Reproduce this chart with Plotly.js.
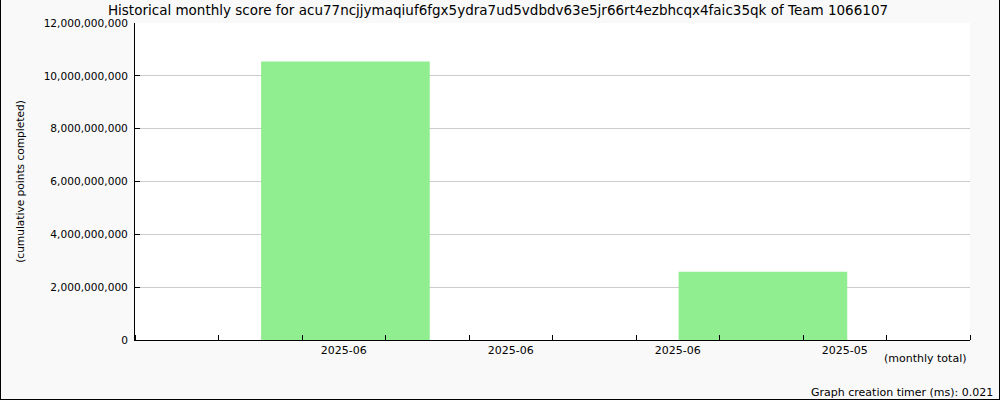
<!DOCTYPE html>
<html>
<head>
<meta charset="utf-8">
<script src="https://cdn.plot.ly/plotly-3.0.1.min.js"></script>
<style>
  html, body { margin: 0; padding: 0; background: #f9f9f9; }
  #wrap { position: relative; width: 1000px; height: 400px; }
  #chart { width: 1000px; height: 400px; }
  #frame { position: absolute; left: 0; top: 0; width: 1000px; height: 400px; box-sizing: border-box;
           border: 1px solid #000; border-top: none; pointer-events: none; }
</style>
</head>
<body>
<div id="wrap"><div id="chart"></div><div id="frame"></div></div>
<script>
// Data
const monthLabels = ['2025-06', '2025-06', '2025-06', '2025-05'];
const labelSlots = [2.5, 4.5, 6.5, 8.5];
const barSlots = [2.52, 7.52];
const barScores = [10540000000, 2580000000];
const yTicks = [0, 2000000000, 4000000000, 6000000000, 8000000000, 10000000000, 12000000000];

const titleText = 'Historical monthly score for acu77ncjjymaqiuf6fgx5ydra7ud5vdbdv63e5jr66rt4ezbhcqx4faic35qk of Team 1066107';
const fontFamily = 'DejaVu Sans, sans-serif';

const trace = {
  type: 'bar',
  x: barSlots,
  y: barScores,
  width: 2.02,
  marker: { color: '#90EE90', line: { width: 0 } },
  hoverinfo: 'skip'
};

const layout = {
  width: 1000,
  height: 400,
  margin: { l: 135, r: 30, t: 23, b: 60, pad: 0 },
  paper_bgcolor: '#f9f9f9',
  plot_bgcolor: '#ffffff',
  showlegend: false,
  font: { family: fontFamily, size: 11, color: '#000' },
  title: {
    text: titleText,
    font: { family: fontFamily, size: 13.5, color: '#000' },
    x: 0.498, xanchor: 'center', xref: 'container',
    y: 1, yref: 'container', yanchor: 'top', pad: { t: 6 }
  },
  xaxis: {
    range: [0, 10],
    tickmode: 'array',
    tickvals: labelSlots,
    ticktext: monthLabels,
    ticks: '',
    showgrid: false,
    zeroline: false,
    showline: true,
    linecolor: '#000',
    linewidth: 1,
    tickfont: { family: fontFamily, size: 11, color: '#000' },
    minor: { tickmode: 'linear', tick0: 0, dtick: 1, ticks: 'inside', ticklen: 5, tickcolor: '#000', tickwidth: 1, showgrid: false },
    fixedrange: true
  },
  yaxis: {
    range: [0, 12000000000],
    tickmode: 'array',
    tickvals: yTicks,
    tickformat: ',d',
    ticks: 'inside',
    ticklen: 5,
    tickcolor: '#000',
    showline: true,
    linecolor: '#000',
    linewidth: 1,
    showgrid: true,
    gridcolor: '#cccccc',
    gridwidth: 1,
    zeroline: false,
    ticklabelstandoff: 4,
    tickfont: { family: fontFamily, size: 10.6, color: '#000' },
    title: { text: '(cumulative points completed)', font: { family: fontFamily, size: 10.6, color: '#000' }, standoff: 16 },
    fixedrange: true
  },
  annotations: [
    { text: '(monthly total)', xref: 'paper', yref: 'paper', x: 1, y: 0, xanchor: 'right', yanchor: 'top',
      yshift: -10, xshift: -1, showarrow: false, font: { family: fontFamily, size: 11, color: '#000' } },
    { text: 'Graph creation timer (ms): 0.021', xref: 'paper', yref: 'paper', x: 1, y: 0, xanchor: 'right', yanchor: 'top',
      yshift: -44, xshift: 25, showarrow: false, font: { family: fontFamily, size: 11, color: '#000' } }
  ]
};

Plotly.newPlot('chart', [trace], layout, { staticPlot: true, displayModeBar: false });
</script>
</body>
</html>
